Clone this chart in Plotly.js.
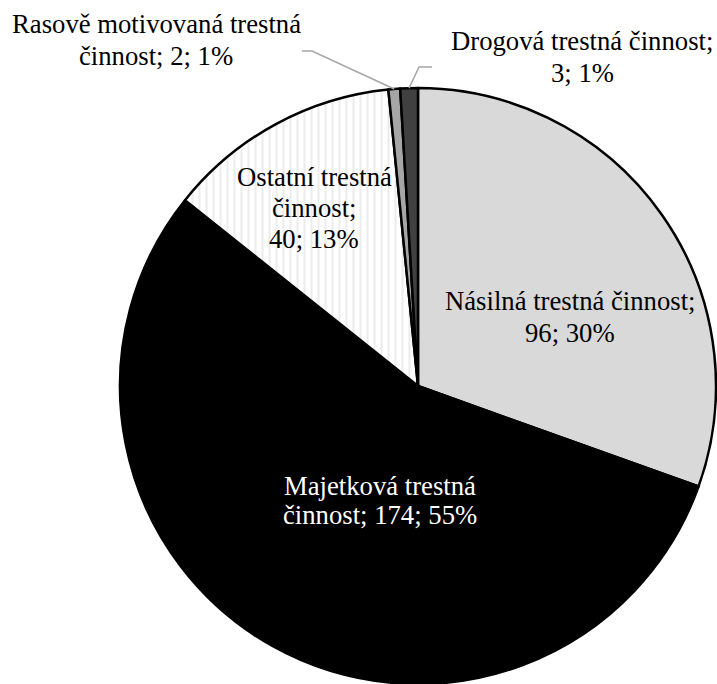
<!DOCTYPE html>
<html>
<head>
<meta charset="utf-8">
<script src="https://cdn.plot.ly/plotly-3.0.1.min.js"></script>
<style>
#chart text, #chart .annotation-text { font-family: 'Liberation Serif', 'Times New Roman', serif !important; }
</style>
</head>
<body style="margin:0;background:#fff">
<div id="chart"></div>
<script>
// ---- data ----
const categories = ["Násilná trestná činnost", "Majetková trestná činnost", "Ostatní trestná činnost", "Rasově motivovaná trestná činnost", "Drogová trestná činnost"];
const values = [96, 174, 40, 2, 3];
const sliceColors = ["#d9d9d9", "#000000", "#ffffff", "#a6a6a6", "#404040"];
const patternShapes = ["", "", "|", "", ""];
const labelColors = ["#000000", "#ffffff", "#000000", "#000000", "#000000"];
// words per line of each data label
const lineBreaks = [[3, 2], [2, 3], [2, 1, 2], [3, 3], [3, 2]];
// label placement (pixels: center x, first baseline y)
const labelPos = [[570, 310], [380, 495], [314, 186], [156, 33], [582, 50]];
const lineGap = [32, 29, 31, 32, 32];
// leader line elbows for outside labels (pixels)
const leaderElbows = {3: [[312, 51], [302, 51]], 4: [[419, 67], [432, 67]]};

const W = 717, H = 684;
const CX = 418, CY = 386, R = 298;
const FS = 26.7;
const total = values.reduce((a, b) => a + b, 0);
const pct = values.map(v => Math.round(v / total * 100));

const px = x => x / W, py = y => 1 - y / H;

const annotations = [];
categories.forEach((c, i) => {
  const words = (c + "; " + values[i] + "; " + pct[i] + "%").split(" ");
  let k = 0;
  lineBreaks[i].forEach((n, li) => {
    const t = words.slice(k, k + n).join(" ");
    k += n;
    const base = labelPos[i][1] + li * lineGap[i];
    annotations.push({
      xref: "paper", yref: "paper", showarrow: false,
      x: px(labelPos[i][0]), y: py(base - 0.34 * FS),
      xanchor: "center", yanchor: "middle",
      text: t,
      font: {family: "Liberation Serif", size: FS, color: labelColors[i]}
    });
  });
});

// leader lines from slice mid-angles
const shapes = [];
let cum = 0;
values.forEach((v, i) => {
  const mid = (cum + v / 2) / total * 2 * Math.PI;
  cum += v;
  if (leaderElbows[i]) {
    const ex = CX + R * Math.sin(mid), ey = CY - R * Math.cos(mid);
    const pts = [[ex, ey]].concat(leaderElbows[i]);
    const path = pts.map((p, j) => (j ? "L" : "M") + px(p[0]) + "," + py(p[1])).join(" ");
    shapes.push({type: "path", xref: "paper", yref: "paper", path: path,
      line: {color: "#a6a6a6", width: 1.5}});
  }
});

const trace = {
  type: "pie",
  labels: categories,
  values: values,
  sort: false,
  direction: "clockwise",
  rotation: 0,
  textinfo: "none",
  hoverinfo: "label+value+percent",
  marker: {
    colors: sliceColors,
    line: {color: "#000000", width: 2.5},
    pattern: {shape: patternShapes, fillmode: "overlay", fgcolor: "#d9d9d9", size: 7, solidity: 0.3}
  },
  domain: {x: [(CX - R) / W, (CX + R) / W], y: [(H - CY - R) / H, (H - CY + R) / H]}
};

Plotly.newPlot("chart", [trace], {
  width: W, height: H,
  margin: {l: 0, r: 0, t: 0, b: 0, pad: 0},
  paper_bgcolor: "#ffffff",
  showlegend: false,
  font: {family: "Liberation Serif"},
  annotations: annotations,
  shapes: shapes
}, {displayModeBar: false, staticPlot: true});
</script>
</body>
</html>
